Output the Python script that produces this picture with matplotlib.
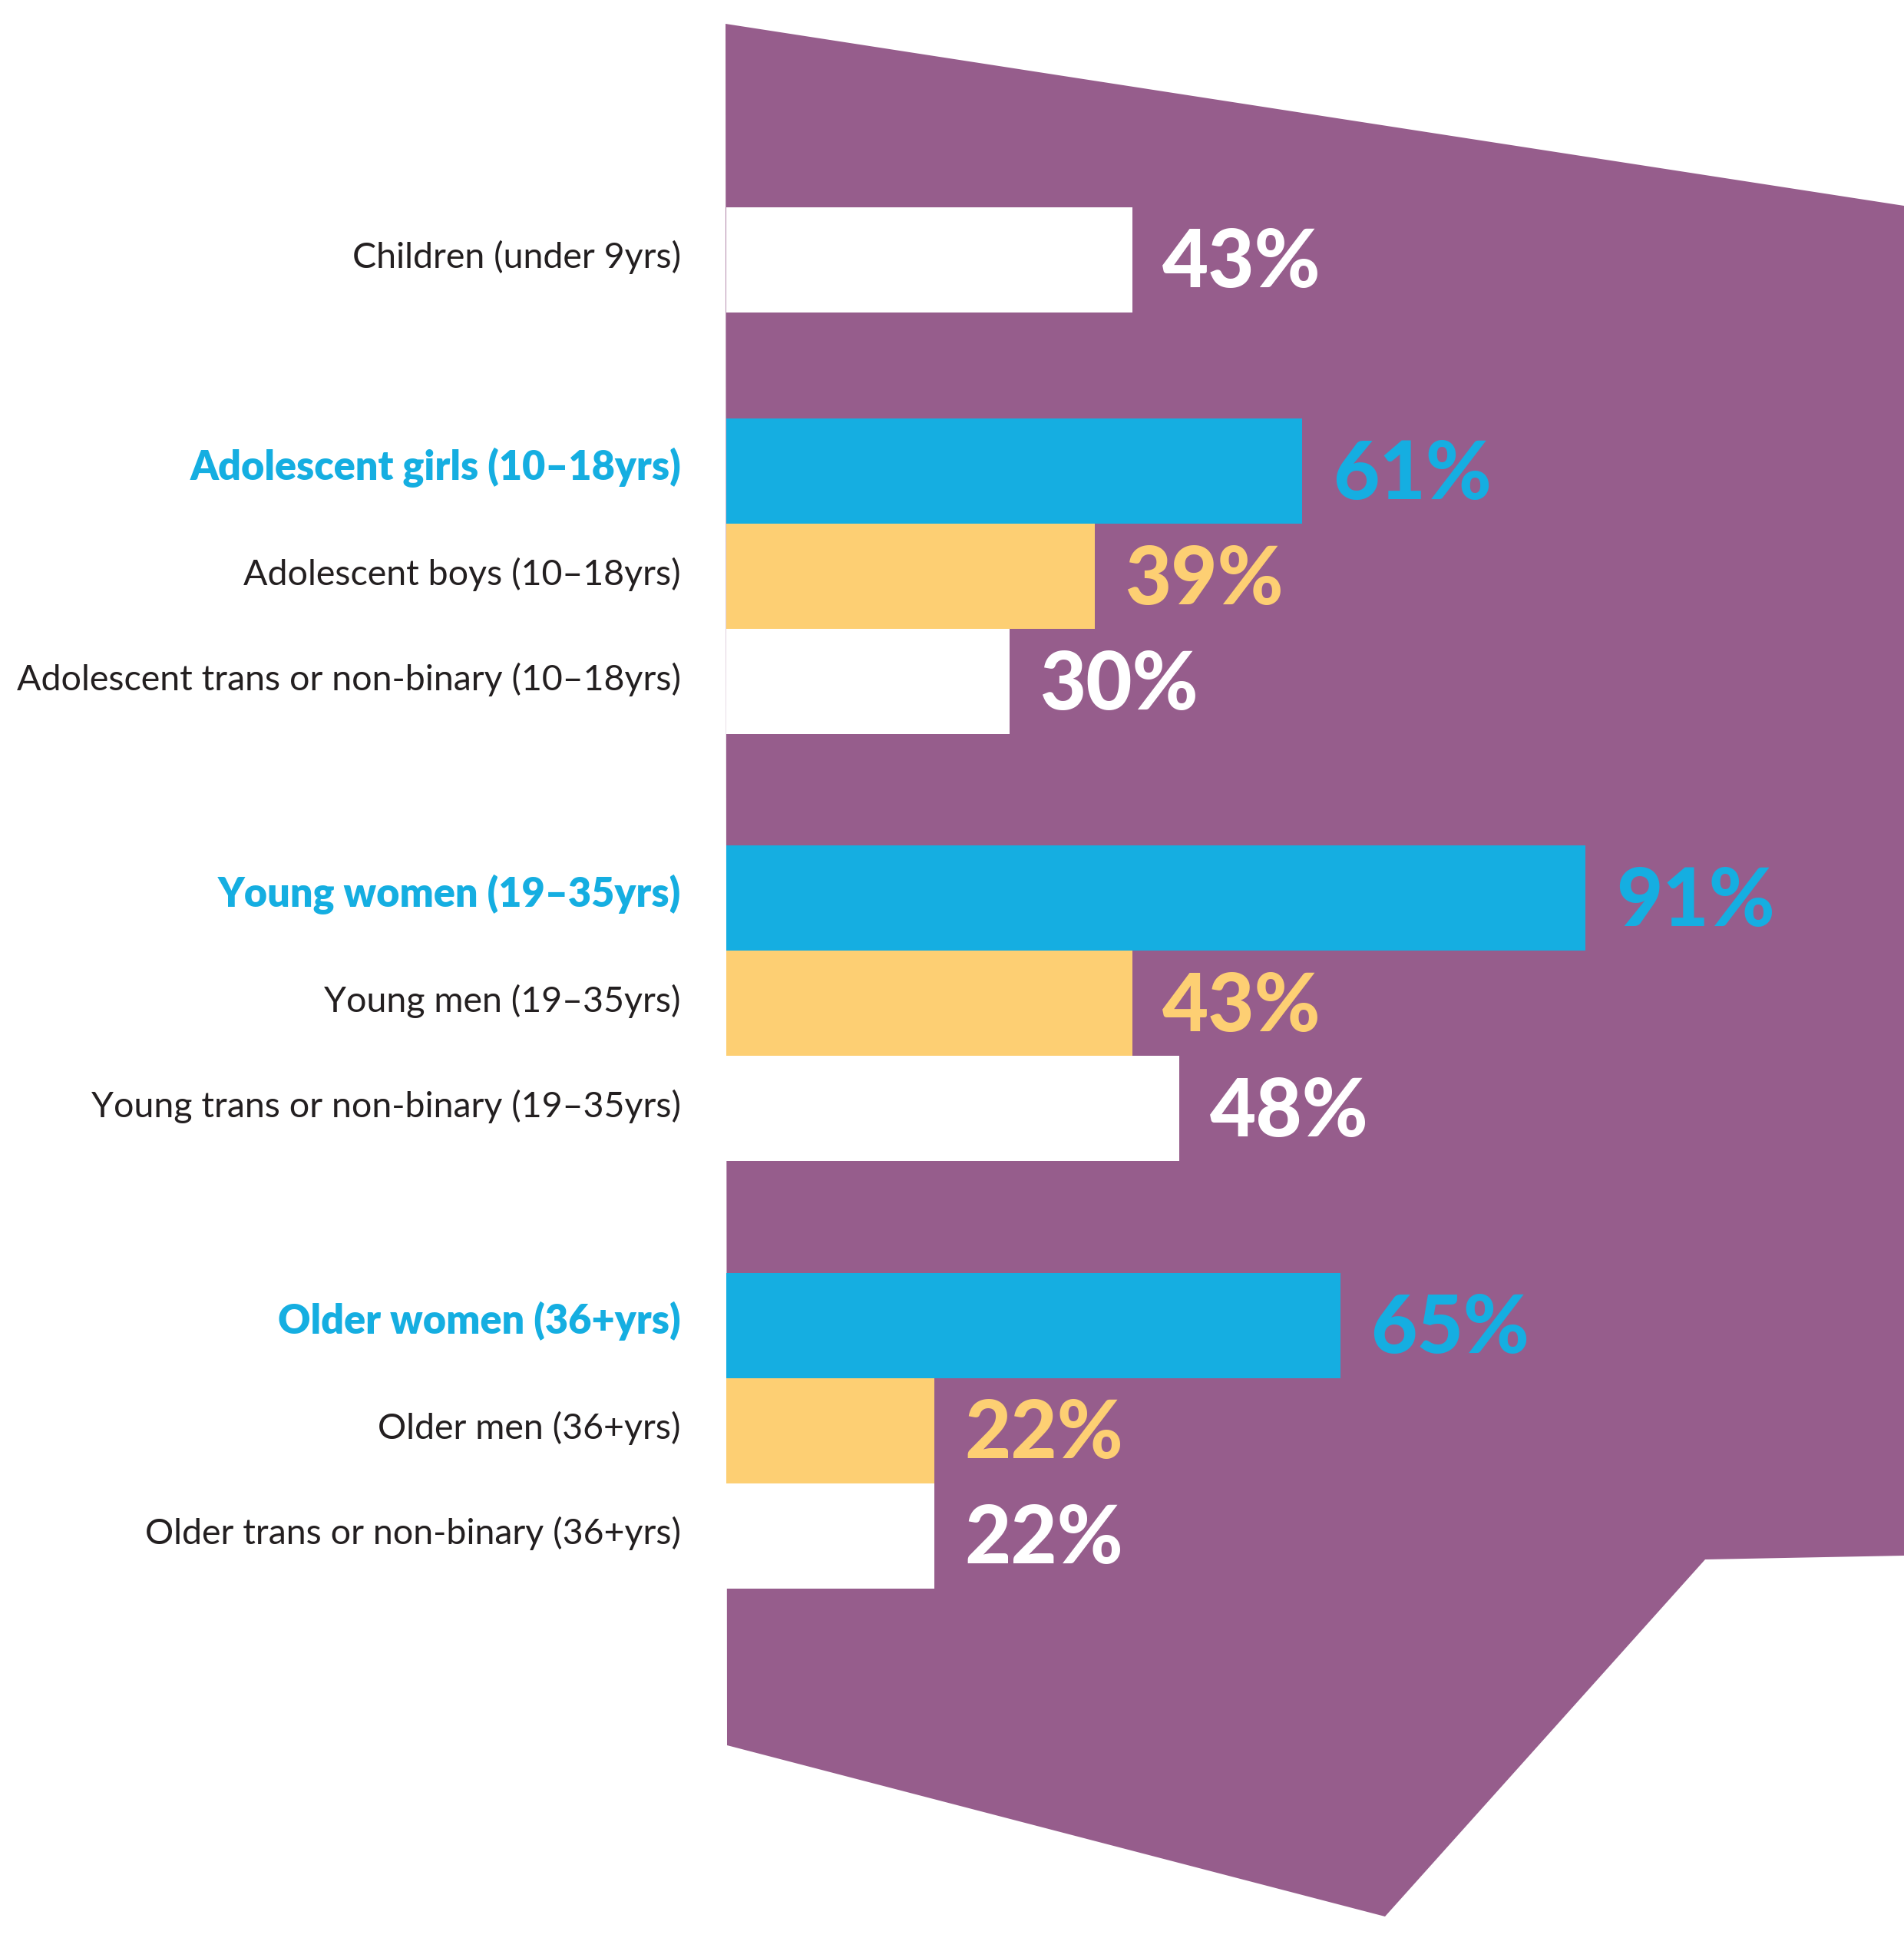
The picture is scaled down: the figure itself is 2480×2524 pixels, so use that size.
import matplotlib
matplotlib.use("Agg")
import matplotlib.pyplot as plt
from matplotlib.patches import Polygon

# ---------------- data ----------------
categories = [
    "Children (under 9yrs)",
    "Adolescent girls (10–18yrs)",
    "Adolescent boys (10–18yrs)",
    "Adolescent trans or non-binary (10–18yrs)",
    "Young women (19–35yrs)",
    "Young men (19–35yrs)",
    "Young trans or non-binary (19–35yrs)",
    "Older women (36+yrs)",
    "Older men (36+yrs)",
    "Older trans or non-binary (36+yrs)",
]
values = [43, 61, 39, 30, 91, 43, 48, 65, 22, 22]
kinds = ["child", "women", "men", "trans",
         "women", "men", "trans",
         "women", "men", "trans"]
groups = [0, 1, 1, 1, 2, 2, 2, 3, 3, 3]

# ---------------- style ----------------
PURPLE = "#965d8c"
BLUE = "#15aee1"
YELLOW = "#fdcf73"
WHITE = "#ffffff"
DARK = "#231f20"
bar_color = {"child": WHITE, "women": BLUE, "men": YELLOW, "trans": WHITE}
pct_color = {"child": WHITE, "women": BLUE, "men": YELLOW, "trans": WHITE}
lab_color = {"child": DARK, "women": BLUE, "men": DARK, "trans": DARK}
lab_weight = {"child": "normal", "women": "heavy", "men": "normal", "trans": "normal"}
lab_size = {"child": 33.5, "women": 37.5, "men": 33.5, "trans": 33.5}

W, H = 2480, 2524
X0 = 946          # pixel where 0% sits
SX = 12.3         # pixels per percent
SY = 137.0        # pixels per bar slot


def px(x, y):
    return ((x - X0) / SX, y / SY)


fig = plt.figure(figsize=(W / 100, H / 100), dpi=100)
ax = fig.add_axes([0, 0, 1, 1])
ax.set_xlim(-X0 / SX, (W - X0) / SX)
ax.set_ylim(H / SY, 0)
ax.axis("off")

# background shape
shape_px = [(945, 31), (2480, 268), (2480, 2026), (2221, 2031),
            (1804, 2496), (947, 2273)]
ax.add_patch(Polygon([px(*p) for p in shape_px], closed=True,
                     facecolor=PURPLE, edgecolor="none", zorder=1))

# positions of bars (slot units)
ypos = []
for g, grp in enumerate(groups):
    if grp == 0:
        ypos.append(2.47)
    else:
        i = sum(1 for k in groups[:g] if k == grp)
        ypos.append(4.48 + (grp - 1) * 4.06 + i)

ax.barh(ypos, values, height=1.0, left=0,
        color=[bar_color[k] for k in kinds], linewidth=0, zorder=2)

for y, v, lab, k in zip(ypos, values, categories, kinds):
    ax.text(-59 / SX, y + 11 / SY, lab, ha="right", va="baseline",
            fontsize=lab_size[k], family=["Lato", "DejaVu Sans"],
            color=lab_color[k], fontweight=lab_weight[k], zorder=3)
    ax.text(v + 3.2, y + 36 / SY, f"{v}%", ha="left", va="baseline",
            fontsize=75, family=["Lato", "DejaVu Sans"],
            color=pct_color[k], fontweight="black", zorder=3)

fig.savefig("out.png", dpi=100, facecolor="white")
